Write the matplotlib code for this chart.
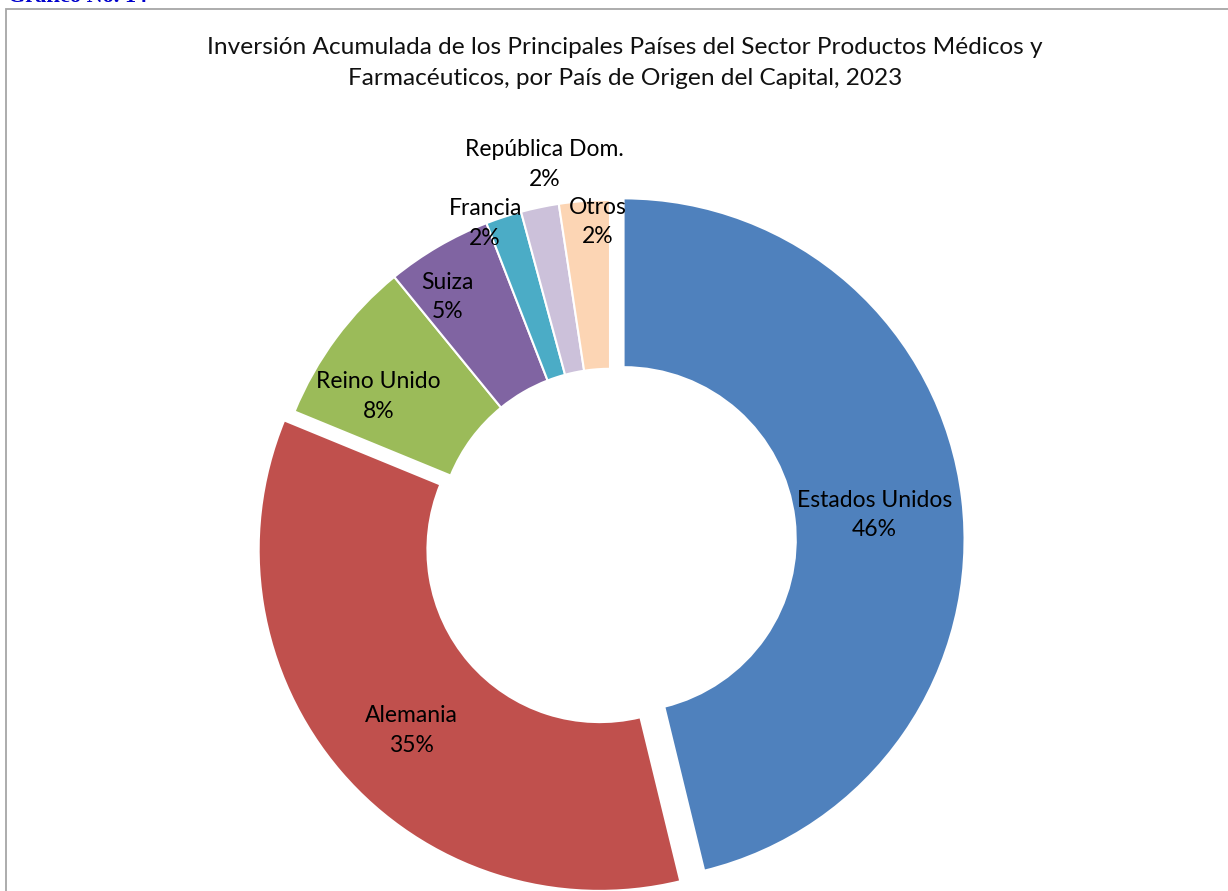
import numpy as np
import matplotlib
matplotlib.use("Agg")
import matplotlib.pyplot as plt
from matplotlib.patches import Rectangle

# Data (percent of accumulated investment, 2023)
countries = ["Estados Unidos", "Alemania", "Reino Unido", "Suiza",
             "Francia", "República Dom.", "Otros"]
shares = [46.2, 35.0, 7.9, 5.0, 1.7, 1.8, 2.4]
colors = ["#4F81BD", "#C0504D", "#9BBB59", "#8064A2",
          "#4BACC6", "#CCC1DA", "#FCD5B4"]
explode = [0.04, 0.04, 0, 0, 0, 0, 0]
# radial position of each label, as a fraction of the outer radius
label_dist = [0.74, 0.765, 0.80, 0.86, 1.0, 1.12, 0.936]
# angle nudges for the labels (degrees)
label_nudge = [-1.2, 3.0, 4.5, 3.4, 3.3, -2.0, -2.1]

title = ("Inversión Acumulada de los Principales Países del Sector Productos Médicos y\n"
         "Farmacéuticos, por País de Origen del Capital, 2023")

plt.rcParams["font.family"] = ["Lato", "DejaVu Sans"]

W, H = 1228, 891
fig = plt.figure(figsize=(W / 100, H / 100), dpi=100)
fig.patch.set_facecolor("white")

# chart border (cut by the page edge at right and bottom)
fig.add_artist(Rectangle((6 / W, -0.1), 1.2, 1.1 - 9 / H, transform=fig.transFigure,
                         fill=False, edgecolor="#A6A6A6", linewidth=1.3))

# caption cut at the top of the page
fig.text(8 / W, 1 - 2 / H, "Gráfico No. 14", color="#0000CC", fontsize=16,
         fontweight="bold", family="Liberation Serif", ha="left", va="baseline")

fig.text(625 / W, 1 - 63 / H, title, ha="center", va="center", fontsize=17.6,
         color="#111111", linespacing=1.55)

# pie axes: centre and radius placed in pixel terms
cx, cy, R = 610, 541, 341
ax = fig.add_axes([0, 0, 1, 1])
wedges, _ = ax.pie(shares, colors=colors, explode=explode, startangle=90,
                   counterclock=False, radius=1,
                   wedgeprops=dict(width=0.495, edgecolor="white", linewidth=1.5))
ax.set_xlim(-cx / R, (W - cx) / R)
ax.set_ylim((cy - H) / R, cy / R)
ax.set_aspect("auto")
ax.axis("off")

for w, name, val, d, nudge, ex in zip(wedges, countries, shares, label_dist,
                                      label_nudge, explode):
    ang = np.deg2rad((w.theta1 + w.theta2) / 2 + nudge)
    x = (d + ex) * np.cos(ang)
    y = (d + ex) * np.sin(ang)
    ax.text(x, y, f"{name}\n{round(val):.0f}%", ha="center", va="center",
            fontsize=16.5, color="black", linespacing=1.5)

fig.savefig("out.png", dpi=100)
